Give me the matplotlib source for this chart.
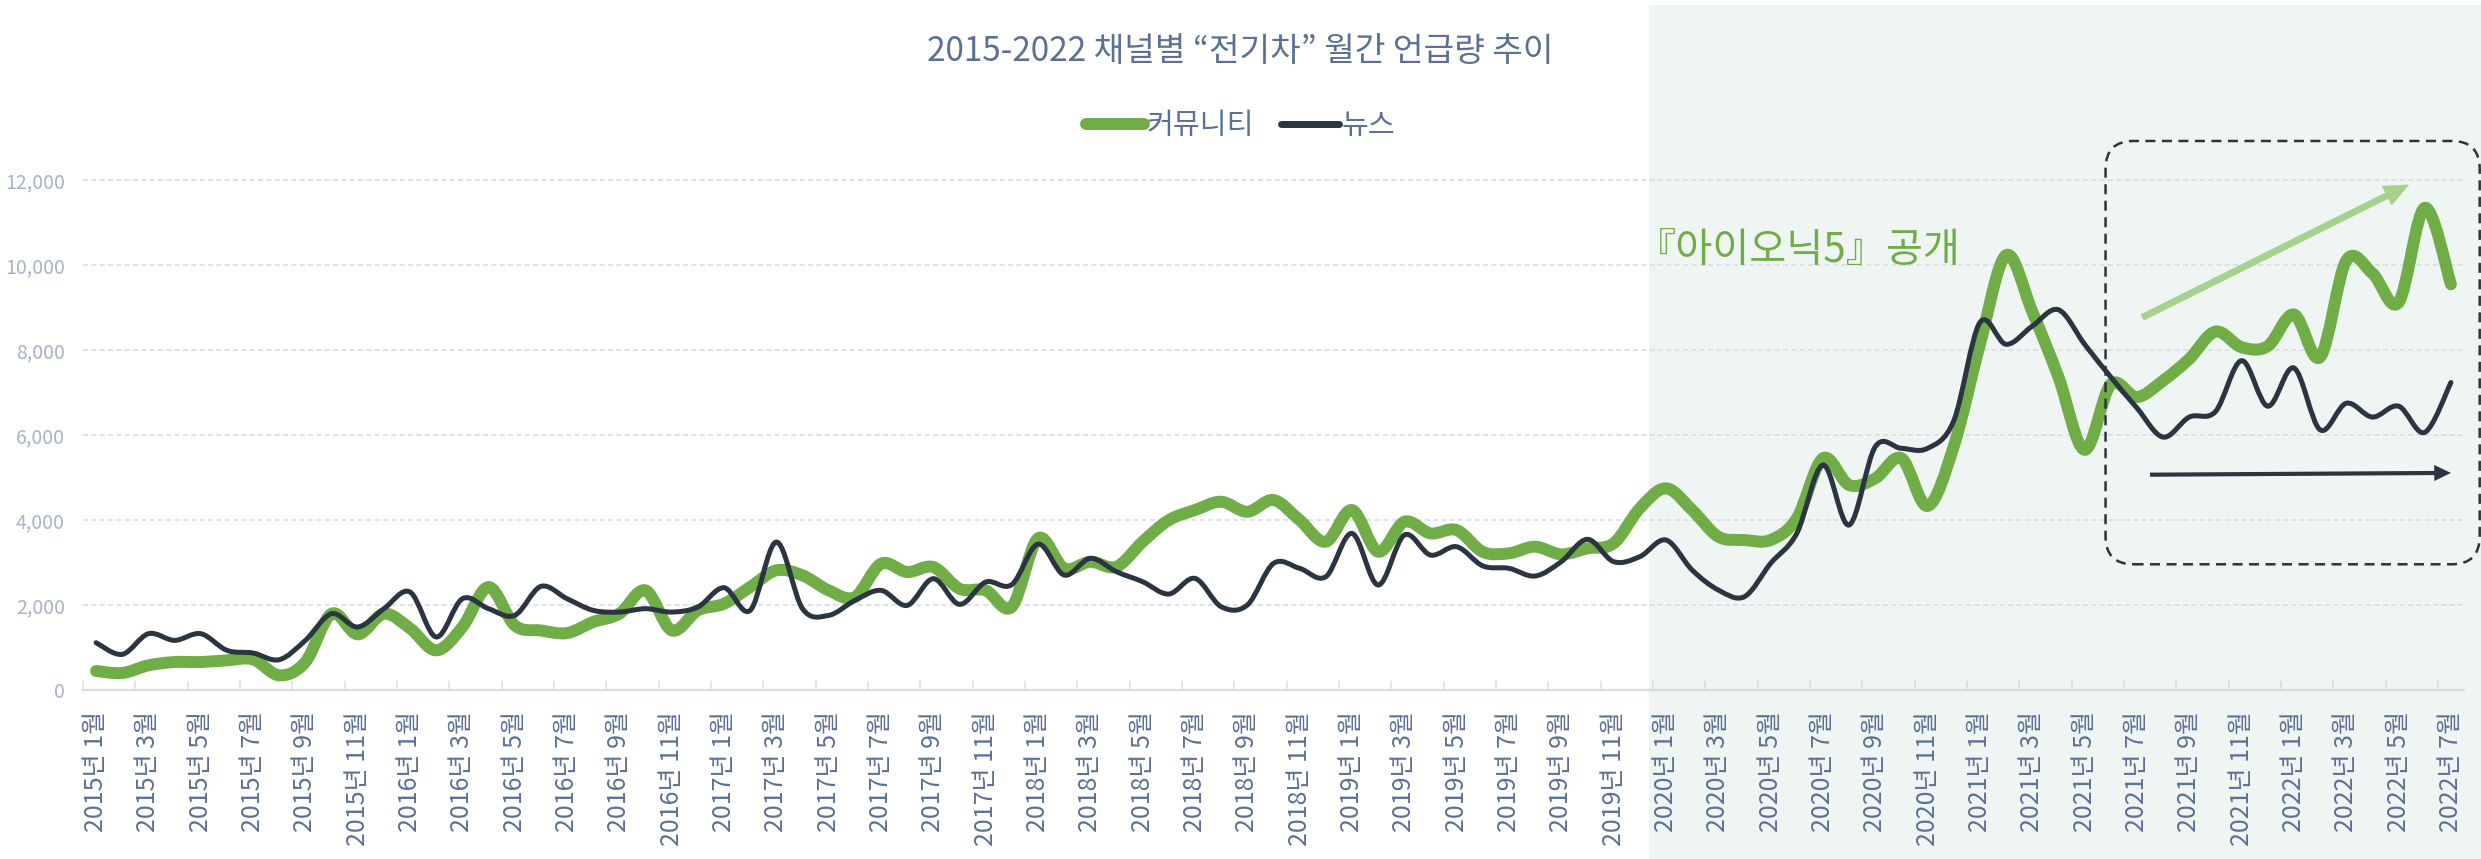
import numpy as np
import matplotlib
matplotlib.use("Agg")
import matplotlib.pyplot as plt
from matplotlib.path import Path
from matplotlib.patches import PathPatch, FancyBboxPatch, Rectangle
from matplotlib.lines import Line2D

plt.rcParams['font.family'] = ['Noto Sans CJK KR', 'DejaVu Sans']

# monthly mention counts, 2015-01 .. 2022-07
community = [447, 400, 580, 658, 658, 698, 720, 345, 658, 1795,
             1309, 1795, 1450, 933, 1482, 2423, 1521, 1400, 1340, 1600,
             1795, 2344, 1403, 1874, 2030, 2423, 2815, 2697, 2344, 2187,
             2971, 2775, 2893, 2383, 2344, 1960, 3567, 2862, 3018, 2901,
             3489, 3998, 4234, 4430, 4194, 4469, 3998, 3489, 4234, 3254,
             3959, 3685, 3763, 3250, 3216, 3372, 3192, 3333, 3451, 4274,
             4745, 4235, 3608, 3529, 3529, 4039, 5451, 4823, 4980, 5451,
             4330, 5737, 8134, 10231, 8904, 7363, 5651, 7192, 6892, 7278,
             7791, 8434, 8065, 8091, 8836, 7834, 10103, 9804, 9118, 11345, 9547]
news = [1113, 839, 1325, 1168, 1325, 933, 870, 713, 1168, 1795,
        1482, 1913, 2305, 1247, 2148, 1913, 1756, 2438, 2148, 1874,
        1834, 1913, 1834, 1952, 2407, 1874, 3481, 1913, 1756, 2109,
        2344, 1991, 2619, 2015, 2540, 2480, 3434, 2705, 3097, 2783,
        2548, 2258, 2626, 1960, 2000, 2979, 2862, 2666, 3685, 2470,
        3646, 3175, 3371, 2920, 2863, 2682, 3020, 3545, 3020, 3137,
        3529, 2823, 2353, 2196, 2980, 3686, 5294, 3882, 5725, 5686,
        5686, 6336, 8648, 8134, 8562, 8947, 8134, 7363, 6636, 5951,
        6422, 6550, 7749, 6678, 7577, 6122, 6747, 6422, 6678, 6062, 7235]
months = [f"{2015 + m // 12}년 {m % 12 + 1}월" for m in range(len(community))]
yticks = [0, 2000, 4000, 6000, 8000, 10000, 12000]

GREEN = '#70ad47'
LIGHT_GREEN = '#a9d18e'
DARK = '#2b3441'
SLATE = '#5b7094'
GRID = '#d9dde6'


def smooth_path(x, y):
    # Catmull-Rom through every point, written as cubic Bezier segments
    pts = np.column_stack([x, y]).astype(float)
    n = len(pts)
    verts = [pts[0]]
    codes = [Path.MOVETO]
    for k in range(n - 1):
        p0 = pts[max(k - 1, 0)]
        p1 = pts[k]
        p2 = pts[k + 1]
        p3 = pts[min(k + 2, n - 1)]
        verts += [p1 + (p2 - p0) / 6, p2 - (p3 - p1) / 6, p2]
        codes += [Path.CURVE4] * 3
    return Path(verts, codes)


fig = plt.figure(figsize=(24.81, 8.59), dpi=100)
ax = fig.add_axes([83 / 2481, 169 / 859, 2381 / 2481, 552.5 / 859])
ax.set_facecolor('none')

x = np.arange(len(months))
ax.set_xlim(-0.5, len(months) - 0.5)
ax.set_ylim(0, 13000)

# shaded period from 2020 onwards, running off the axes to the figure edge
shade = Rectangle((59.35, -0.306), 40, 1.545, transform=ax.get_xaxis_transform(),
                  facecolor='#eef5f2', edgecolor='none', zorder=0, clip_on=False)
ax.add_patch(shade)

ax.set_axisbelow(True)
ax.yaxis.grid(True, color=GRID, lw=1.2, ls=(0, (3, 2)))
for s in ['top', 'right', 'left']:
    ax.spines[s].set_visible(False)
ax.spines['bottom'].set_color('#d9dce3')
ax.spines['bottom'].set_linewidth(1.6)

ax.set_yticks(yticks)
ax.set_yticklabels([f"{v:,}" for v in yticks])
ax.tick_params(axis='y', length=0, pad=13, labelsize=14, labelcolor='#a7b3c6')

ax.set_xticks(x[::2])
ax.set_xticklabels(months[::2], rotation=90)
ax.set_xticks(np.arange(-0.5, len(months) - 1, 2), minor=True)
ax.tick_params(axis='x', which='major', length=0, pad=15, labelsize=18, labelcolor=SLATE)
ax.tick_params(axis='x', which='minor', direction='in', length=6.5, width=1.1, color='#d9dce3')

ax.add_patch(PathPatch(smooth_path(x, community), fill=False, edgecolor=GREEN,
                       lw=8.6, capstyle='round', joinstyle='round', zorder=3))
ax.add_patch(PathPatch(smooth_path(x, news), fill=False, edgecolor=DARK,
                       lw=3.6, capstyle='round', joinstyle='round', zorder=4))

ax.text(65.06, 10350, '『아이오닉5』공개', color=GREEN, fontsize=29,
        ha='center', va='center', zorder=5)

# dashed rounded frame around the last year
fig.canvas.draw()
o = ax.transData.transform((0, 0))
px_x = ax.transData.transform((1, 0))[0] - o[0]
px_y = ax.transData.transform((0, 1))[1] - o[1]
frame = FancyBboxPatch((76.8, 2958), 91.1 - 76.8, 12918 - 2958,
                       boxstyle='round,pad=0,rounding_size=1.07',
                       mutation_aspect=px_x / px_y, fill=False,
                       edgecolor=DARK, lw=1.8, ls=(0, (4, 2.6)),
                       clip_on=False, zorder=5)
ax.add_patch(frame)

ax.annotate('', xy=(88.4, 11892), xytext=(78.2, 8765),
            arrowprops=dict(arrowstyle='simple,tail_width=0.25,head_width=0.8,head_length=0.9',
                            mutation_scale=20, color=LIGHT_GREEN, lw=0,
                            shrinkA=0, shrinkB=0), zorder=5)
ax.annotate('', xy=(90.0, 5108), xytext=(78.5, 5066),
            arrowprops=dict(arrowstyle='simple,tail_width=0.15,head_width=0.58,head_length=0.6',
                            mutation_scale=20, color=DARK, lw=0,
                            shrinkA=0, shrinkB=0), zorder=5)

fig.text(0.5, 1 - 52 / 859, '2015-2022 채널별 “전기차” 월간 언급량 추이',
         ha='center', va='center', fontsize=24, color=SLATE)

handles = [Line2D([], [], color=GREEN, lw=8.6, solid_capstyle='round'),
           Line2D([], [], color=DARK, lw=5, solid_capstyle='round')]
fig.legend(handles, ['커뮤니티', '뉴스'], loc='center', bbox_to_anchor=(0.5, 1 - 126 / 859),
           ncol=2, frameon=False, fontsize=21, labelcolor=SLATE,
           handlelength=2.0, handletextpad=0.1, columnspacing=0.9)

fig.savefig('out.png', dpi=100)
